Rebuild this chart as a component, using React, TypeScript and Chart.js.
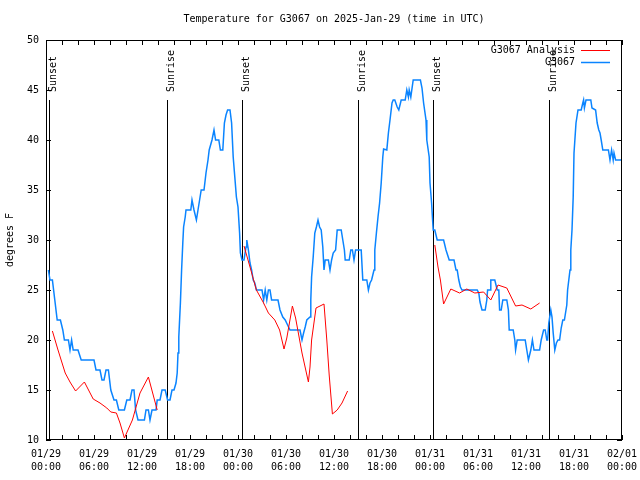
import React, { useEffect, useRef } from "react";
import { Chart, registerables } from "chart.js";

Chart.register(...registerables);

const TITLE = "Temperature for G3067 on 2025-Jan-29 (time in UTC)";
const Y_TITLE = "degrees F";
const SERIES_ANALYSIS = "G3067 Analysis";
const SERIES_OBS = "G3067";

// x axis: hours since 2025-01-29 00:00 UTC
const xTickHours = [0, 6, 12, 18, 24, 30, 36, 42, 48, 54, 60, 66, 72];
const xTickDates = ["01/29", "01/29", "01/29", "01/29", "01/30", "01/30", "01/30", "01/30", "01/31", "01/31", "01/31", "01/31", "02/01"];
const xTickTimes = ["00:00", "06:00", "12:00", "18:00", "00:00", "06:00", "12:00", "18:00", "00:00", "06:00", "12:00", "18:00", "00:00"];
const yTicks = [10, 15, 20, 25, 30, 35, 40, 45, 50];

const sunHours = [0.42, 15.08, 24.46, 39.04, 48.42, 62.9];
const sunLabels = ["Sunset", "Sunrise", "Sunset", "Sunrise", "Sunset", "Sunrise"];

// G3067 Analysis (red)
const analysisHours = [
  0.8, 1.5, 2.4, 3.0, 3.7, 4.8, 5.9, 6.75, 7.6, 8.1, 8.8, 9.25, 9.8, 10.8, 11.75, 12.8, 13.9,
  19,
  24.75, 25.5, 26.3, 27.2, 27.8, 28.6, 29.2, 29.75, 30.1, 30.8, 31.2, 32.0, 32.8, 33.0, 33.2, 33.75, 34.25, 34.75, 35.1, 35.4, 35.8, 36.4, 37.0, 37.7,
  43,
  48.6, 49.0, 49.3, 49.7, 50.6, 51.7, 52.6, 53.6, 54.7, 55.6, 56.5, 57.6, 58.7, 59.5, 60.6, 61.7,
];
const analysisTemps = [
  20.9, 19, 16.7, 15.8, 14.9, 15.8, 14.1, 13.7, 13.2, 12.8, 12.7, 11.7, 10.2, 12, 14.7, 16.3, 13,
  null,
  29.4, 27.3, 25, 23.7, 22.7, 22, 21, 19.1, 20.2, 23.4, 22.2, 18.7, 15.8, 17.3, 20, 23.2, 23.4, 23.6, 20, 16.5, 12.6, 13, 13.7, 14.9,
  null,
  29.5, 27.3, 26, 23.6, 25.1, 24.7, 25.1, 24.7, 24.8, 24, 25.5, 25.2, 23.4, 23.5, 23.1, 23.7,
];

// G3067 observations (blue)
const obsHours = [
  0.3, 0.5, 0.8, 1.1, 1.4, 1.8, 2.1, 2.3, 2.8, 3.0, 3.2, 3.4, 4.0, 4.4, 6.0, 6.25, 6.75, 7.0, 7.25, 7.5,
  7.8, 8.1, 8.5, 8.8, 9.1, 9.8, 10.1, 10.5, 10.75, 11.0, 11.2, 11.5, 12.3, 12.5, 12.8, 13.0, 13.25, 13.75, 13.9, 14.25,
  14.5, 14.9, 15.2, 15.5, 15.75, 16.0, 16.25, 16.4, 16.5, 16.6, 16.8, 16.95, 17.1, 17.2, 17.4, 17.5, 18.1, 18.25, 18.5, 18.8,
  19.0, 19.2, 19.4, 19.75, 20.0, 20.25, 20.4, 20.75, 21.0, 21.2, 21.6, 21.8, 22.1, 22.3, 22.5, 22.7, 23.0, 23.2, 23.4, 23.6,
  23.8, 24.0, 24.2, 24.3, 24.5, 24.75, 25.0, 25.1, 25.3, 25.5, 25.7, 25.9, 26.1, 26.3, 27.0, 27.2, 27.4, 27.6, 27.8, 28.0,
  28.2, 29.0, 29.25, 29.6, 29.9, 30.2, 30.5, 31.75, 32.0, 32.2, 32.4, 32.6, 33.0, 33.1, 33.2, 33.4, 33.6, 33.8, 34.0, 34.2,
  34.4, 34.6, 34.75, 34.9, 35.3, 35.5, 35.7, 35.9, 36.2, 36.4, 36.9, 37.1, 37.3, 37.4, 37.9, 38.1, 38.3, 38.5, 38.7, 39.4,
  39.6, 40.1, 40.3, 40.5, 40.7, 41.0, 41.1, 41.3, 41.5, 41.7, 41.9, 42.1, 42.2, 42.6, 42.8, 43.0, 43.25, 43.4, 43.6, 43.9,
  44.1, 44.4, 44.9, 45.1, 45.3, 45.4, 45.6, 45.9, 46.8, 47.0, 47.2, 47.5, 47.6, 47.9, 48.0, 48.2, 48.3, 48.4, 48.6, 48.9,
  49.7, 50.0, 50.1, 50.4, 51.0, 51.25, 51.4, 51.6, 51.8, 52.0, 53.9, 54.1, 54.25, 54.5, 54.9, 55.1, 55.2, 55.5, 55.6, 56.1,
  56.4, 56.6, 56.7, 56.9, 57.1, 57.6, 57.8, 57.9, 58.4, 58.6, 58.7, 58.9, 59.9, 60.1, 60.3, 60.6, 60.8, 61.0, 61.7, 61.9,
  62.2, 62.4, 62.6, 62.7, 62.85, 63.1, 63.25, 63.4, 63.6, 63.8, 64.0, 64.2, 64.4, 64.6, 64.8, 64.9, 65.1, 65.2, 65.5, 65.6,
  65.75, 65.9, 66.0, 66.25, 66.5, 66.9, 67.1, 67.2, 67.3, 67.5, 68.1, 68.25, 68.7, 68.9, 69.1, 69.25, 69.4, 69.6, 70.3, 70.5,
  70.7, 70.9, 71.0, 71.2, 72.0,
];
const obsTemps = [
  27, 26, 26, 24, 22, 22, 21, 20, 20, 19, 20, 19, 19, 18, 18, 17, 17, 16, 16, 17,
  17, 15, 14, 14, 13, 13, 14, 14, 15, 15, 13, 12, 12, 13, 13, 12, 13, 13, 14, 14,
  15, 15, 14, 14, 15, 15, 15.7, 16.7, 18.7, 20.3, 23.7, 27, 29.7, 31.3, 32.3, 33, 33, 34, 33, 32,
  33, 34, 35, 35, 36.7, 38, 39, 40, 41, 40, 40, 39, 39, 41.7, 42.5, 43, 43, 41.7, 38.3, 36.3,
  34.3, 33.3, 30.7, 28.7, 28, 28, 29.3, 30, 29, 27.7, 27, 26, 25.7, 25, 25, 24, 25, 24, 25, 25,
  24, 24, 23, 22.3, 22, 21.5, 21, 21, 20, 20.7, 21.3, 22, 22.3, 24, 26.3, 28.3, 30.7, 31.3, 32, 31.3,
  31, 29.3, 27, 28, 28, 27, 28, 28.7, 29, 31, 31, 30, 29, 28, 28, 29, 29, 28, 29, 29,
  26, 26, 25, 25.7, 26, 27, 29, 30.7, 32.3, 33.7, 35.7, 38.3, 39.1, 39, 40.7, 42, 43.7, 44, 44, 43.3,
  43, 44, 44, 45, 44.3, 45, 44.3, 46, 46, 45.2, 43.7, 42, 40, 38.3, 35.7, 33.7, 32.3, 31, 31, 30,
  30, 29, 29, 28, 28, 27, 27, 26, 25.3, 25, 25, 24.7, 23.8, 23, 23, 24, 25, 25, 26, 26,
  25, 25, 23, 23, 24, 24, 23, 21, 21, 20, 19, 20, 20, 19, 18, 19, 20, 19, 19, 20,
  21, 21, 20, 20, 21.7, 23, 22.3, 20.7, 19, 19.7, 20, 20, 21.2, 22, 22, 22.5, 23.5, 25, 27, 29,
  31, 34.3, 38.7, 41.7, 43, 43, 43.7, 44, 43.2, 44, 44, 43.2, 43, 41.7, 41, 40.7, 40, 39, 39, 38,
  39, 38, 38.7, 38, 38,
];

const FONT_FAMILY = "'DejaVu Sans Mono', 'Liberation Mono', monospace";
const FONT = `10px ${FONT_FAMILY}`;

const overlay = {
  id: "gnuplotOverlay",
  beforeDatasetsDraw(chart: any) {
    const { ctx, chartArea: a, scales } = chart;
    const x = scales.x;
    ctx.save();
    ctx.strokeStyle = "#000";
    ctx.lineWidth = 1;
    ctx.fillStyle = "#000";
    ctx.font = FONT;
    sunHours.forEach((h, i) => {
      const px = Math.round(x.getPixelForValue(h)) + 0.5;
      const topY = a.top + a.height * 0.15;
      ctx.beginPath();
      ctx.moveTo(px, a.bottom);
      ctx.lineTo(px, topY);
      ctx.stroke();
      ctx.save();
      ctx.translate(px + 6, a.top + a.height * 0.13);
      ctx.rotate(-Math.PI / 2);
      ctx.textAlign = "left";
      ctx.textBaseline = "alphabetic";
      ctx.fillText(sunLabels[i], 0, 0);
      ctx.restore();
    });
    ctx.restore();
  },
  afterDatasetsDraw(chart: any) {
    const { ctx, chartArea: a, scales } = chart;
    const x = scales.x;
    const y = scales.y;
    ctx.save();
    ctx.strokeStyle = "#000";
    ctx.lineWidth = 1;
    // border
    ctx.strokeRect(Math.round(a.left) + 0.5, Math.round(a.top) + 0.5, Math.round(a.right - a.left) - 1, Math.round(a.bottom - a.top) - 1);
    // inward tick marks
    const tl = 5;
    ctx.beginPath();
    yTicks.forEach((v) => {
      const py = Math.round(y.getPixelForValue(v)) + 0.5;
      ctx.moveTo(a.left, py);
      ctx.lineTo(a.left + tl, py);
      ctx.moveTo(a.right, py);
      ctx.lineTo(a.right - tl, py);
    });
    for (let h = x.min; h <= x.max; h += 2) {
      const px = Math.round(x.getPixelForValue(h)) + 0.5;
      ctx.moveTo(px, a.bottom);
      ctx.lineTo(px, a.bottom - tl);
      ctx.moveTo(px, a.top);
      ctx.lineTo(px, a.top + tl);
    }
    ctx.stroke();

    ctx.fillStyle = "#000";
    ctx.font = FONT;
    // title
    ctx.textAlign = "center";
    ctx.textBaseline = "middle";
    ctx.fillText(TITLE, (a.left + a.right) / 2, 19);
    // y title
    ctx.save();
    ctx.translate(10, (a.top + a.bottom) / 2);
    ctx.rotate(-Math.PI / 2);
    ctx.fillText(Y_TITLE, 0, 0);
    ctx.restore();
    // legend
    const entries = [
      { label: SERIES_ANALYSIS, color: "#ff0000", width: 1 },
      { label: SERIES_OBS, color: "#0a84ff", width: 1.5 },
    ];
    entries.forEach((e, i) => {
      const ry = a.top + 10 + i * 12;
      ctx.textAlign = "right";
      ctx.textBaseline = "middle";
      ctx.fillStyle = "#000";
      ctx.fillText(e.label, a.right - 47, ry);
      ctx.strokeStyle = e.color;
      ctx.lineWidth = e.width;
      ctx.beginPath();
      ctx.moveTo(a.right - 41, Math.round(ry) + 0.5);
      ctx.lineTo(a.right - 12, Math.round(ry) + 0.5);
      ctx.stroke();
    });
    ctx.restore();
  },
};

export default function App() {
  const ref = useRef<HTMLCanvasElement>(null);
  useEffect(() => {
    const canvas = ref.current;
    if (!canvas) return;
    const analysisData = analysisHours.map((h, i) => ({ x: h, y: analysisTemps[i] }));
    const obsData = obsHours.map((h, i) => ({ x: h, y: obsTemps[i] }));
    const chart = new Chart(canvas, {
      type: "line",
      data: {
        datasets: [
          {
            label: SERIES_ANALYSIS,
            data: analysisData as any,
            borderColor: "#ff0000",
            borderWidth: 1,
            pointRadius: 0,
            tension: 0,
            fill: false,
            spanGaps: false,
          },
          {
            label: SERIES_OBS,
            data: obsData as any,
            borderColor: "#0a84ff",
            borderWidth: 1.5,
            pointRadius: 0,
            tension: 0,
            fill: false,
          },
        ],
      },
      options: {
        responsive: false,
        animation: false,
        devicePixelRatio: 1,
        events: [],
        layout: { padding: { top: 40, right: 18, left: 0, bottom: 0 } },
        plugins: {
          legend: { display: false },
          title: { display: false },
          tooltip: { enabled: false },
        },
        scales: {
          x: {
            type: "linear",
            min: 0,
            max: 72,
            afterFit: (s: any) => {
              s.height = 40;
              s.paddingLeft = 0;
              s.paddingRight = 0;
            },
            grid: { display: false, drawTicks: false },
            border: { display: false },
            ticks: {
              stepSize: 6,
              autoSkip: false,
              maxRotation: 0,
              minRotation: 0,
              padding: 8,
              color: "#000",
              font: { family: FONT_FAMILY, size: 10, lineHeight: 1.3 },
              callback: (v: any) => {
                const i = xTickHours.indexOf(Number(v));
                return i >= 0 ? [xTickDates[i], xTickTimes[i]] : "";
              },
            },
          },
          y: {
            min: 10,
            max: 50,
            afterFit: (s: any) => {
              s.width = 46;
              s.paddingTop = 0;
              s.paddingBottom = 0;
            },
            grid: { display: false, drawTicks: false },
            border: { display: false },
            ticks: {
              stepSize: 5,
              padding: 7,
              color: "#000",
              font: { family: FONT_FAMILY, size: 10 },
            },
          },
        },
      },
      plugins: [overlay],
    });
    return () => chart.destroy();
  }, []);
  return (
    <canvas
      ref={ref}
      width={640}
      height={480}
      style={{ position: "absolute", left: 0, top: 0, width: 640, height: 480 }}
    />
  );
}
